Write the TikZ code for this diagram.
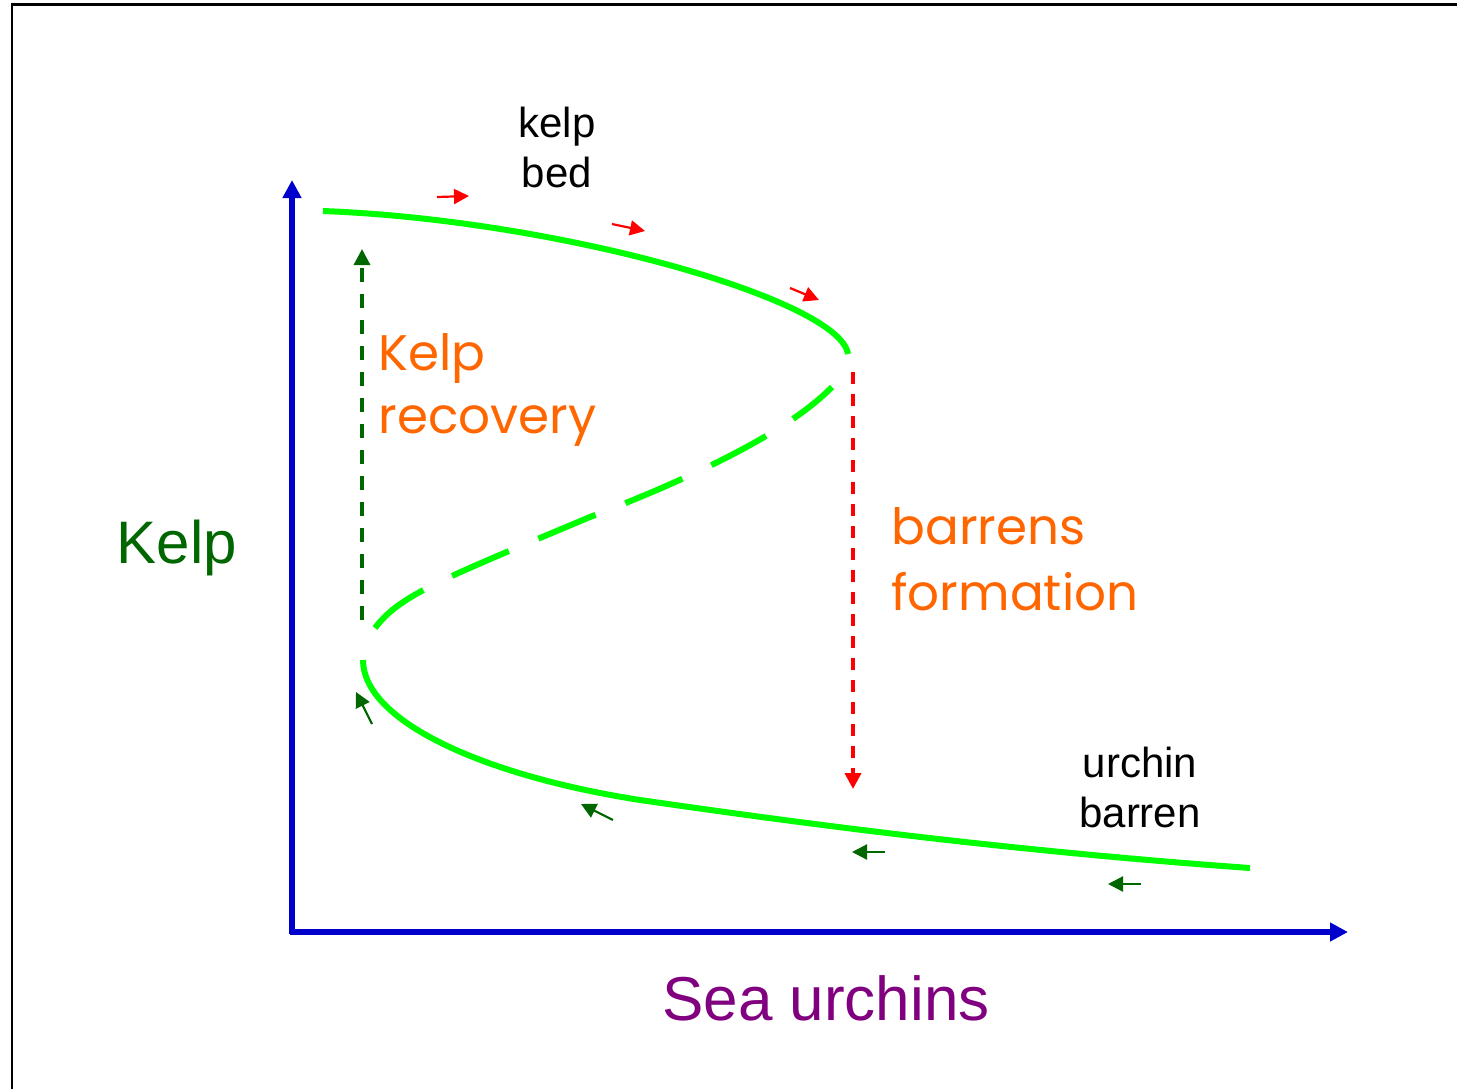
\documentclass[tikz,border=0pt]{standalone}
\usepackage{fontspec}
\setmainfont{Liberation Sans}
\newfontfamily\comicfont{Poppins}
\usetikzlibrary{arrows.meta}
\definecolor{brightgreen}{HTML}{00FF00}
\definecolor{darkgreen}{HTML}{006600}
\definecolor{axisblue}{HTML}{0000CC}
\definecolor{labelorange}{HTML}{FF6600}
\definecolor{purplelab}{HTML}{800080}
\definecolor{redarrow}{HTML}{FF0000}
\tikzset{
  axisline/.style={draw=axisblue, line width=3.2pt, -{Triangle[length=9pt,width=9pt]}},
  branch/.style={draw=brightgreen, line width=3pt},
  unstable/.style={draw=brightgreen, line width=3pt, dash pattern=on 31pt off 16pt},
  jumpup/.style={draw=darkgreen, line width=1.6pt, dash pattern=on 7pt off 6pt, -{Triangle[length=8pt,width=8pt]}},
  jumpdown/.style={draw=redarrow, line width=1.9pt, dash pattern=on 6pt off 5pt, -{Triangle[length=8pt,width=8pt]}},
  redtick/.style={draw=redarrow, line width=1.1pt, -{Triangle[length=7.5pt,width=7.5pt]}},
  greentick/.style={draw=darkgreen, line width=1.1pt, -{Triangle[length=7.5pt,width=7.5pt]}},
  plainlab/.style={inner sep=0pt, font=\fontsize{21}{25}\selectfont, text=black},
  orangelab/.style={inner sep=0pt, font=\comicfont\fontsize{25}{30}\selectfont, text=labelorange},
}
\begin{document}
\begin{tikzpicture}[x=0.5pt,y=-0.5pt]
\useasboundingbox (0,0) rectangle (1457,1089);
% frame
\coordinate (fbl) at (12,1089);
\coordinate (ftl) at (12,4.5);
\coordinate (ftr) at (1457,4.5);
\draw[line width=1.25pt] (fbl) -- (ftl) -- (ftr);
% axes
\coordinate (ybot) at (292,933.5);
\coordinate (ytop) at (292,180);
\coordinate (xleft) at (290.4,932);
\coordinate (xright) at (1348,932);
\draw[axisline] (ybot) -- (ytop);
\draw[axisline] (xleft) -- (xright);
% curve points
\coordinate (ustart) at (323,211);
\coordinate (ufold) at (848,354);
\coordinate (mtop) at (832,387);
\coordinate (mmid) at (590,517);
\coordinate (mbot) at (375,628);
\coordinate (lfold) at (363,660);
\coordinate (lmid) at (640,800);
\coordinate (lend) at (1250,868);
\draw[branch] (ustart) .. controls (560,220) and (840,300) .. (ufold);
\draw[unstable] (mbot) .. controls (400,595) and (440,580) .. (mmid)
   .. controls (700,475) and (790,430) .. (mtop);
\draw[branch] (lfold) .. controls (363,720) and (480,775) .. (lmid)
   .. controls (800,823) and (1000,850) .. (lend);
% jumps
\coordinate (upfrom) at (362,620);
\coordinate (upto) at (362,249);
\coordinate (downfrom) at (853,372);
\coordinate (downto) at (853,789);
\draw[jumpup] (upfrom) -- (upto);
\draw[jumpdown] (downfrom) -- (downto);
% small red arrows
\coordinate (r1a) at (437,197); \coordinate (r1b) at (469,196);
\coordinate (r2a) at (612,224); \coordinate (r2b) at (645,231);
\coordinate (r3a) at (790,288); \coordinate (r3b) at (819,300);
\draw[redtick] (r1a) -- (r1b);
\draw[redtick] (r2a) -- (r2b);
\draw[redtick] (r3a) -- (r3b);
% small green arrows
\coordinate (g1a) at (372,724); \coordinate (g1b) at (356,692);
\coordinate (g2a) at (613,820); \coordinate (g2b) at (581,804);
\coordinate (g3a) at (885,852); \coordinate (g3b) at (852,852);
\coordinate (g4a) at (1141,884); \coordinate (g4b) at (1108,884);
\draw[greentick] (g1a) -- (g1b);
\draw[greentick] (g2a) -- (g2b);
\draw[greentick] (g3a) -- (g3b);
\draw[greentick] (g4a) -- (g4b);
% labels
\node[plainlab, anchor=base] (kelpA) at (557,137) {kelp};
\node[plainlab, anchor=base] (kelpB) at (557,187) {bed};
\node[plainlab, anchor=base] (urchA) at (1140,777) {urchin};
\node[plainlab, anchor=base] (urchB) at (1140,827) {barren};
\node[inner sep=0pt, anchor=base, font=\fontsize{30}{36}\selectfont, text=darkgreen] (ylab) at (177,563) {Kelp};
\node[inner sep=0pt, anchor=base, font=\fontsize{31}{37}\selectfont, text=purplelab] (xlab) at (826,1020) {Sea urchins};
\node[orangelab, anchor=base west] (recA) at (378,370) {Kelp};
\node[orangelab, anchor=base west] (recB) at (378,433) {recovery};
\node[orangelab, anchor=base west] (barA) at (891,544) {barrens};
\node[orangelab, anchor=base west] (barB) at (891,610) {formation};
\end{tikzpicture}
\end{document}
